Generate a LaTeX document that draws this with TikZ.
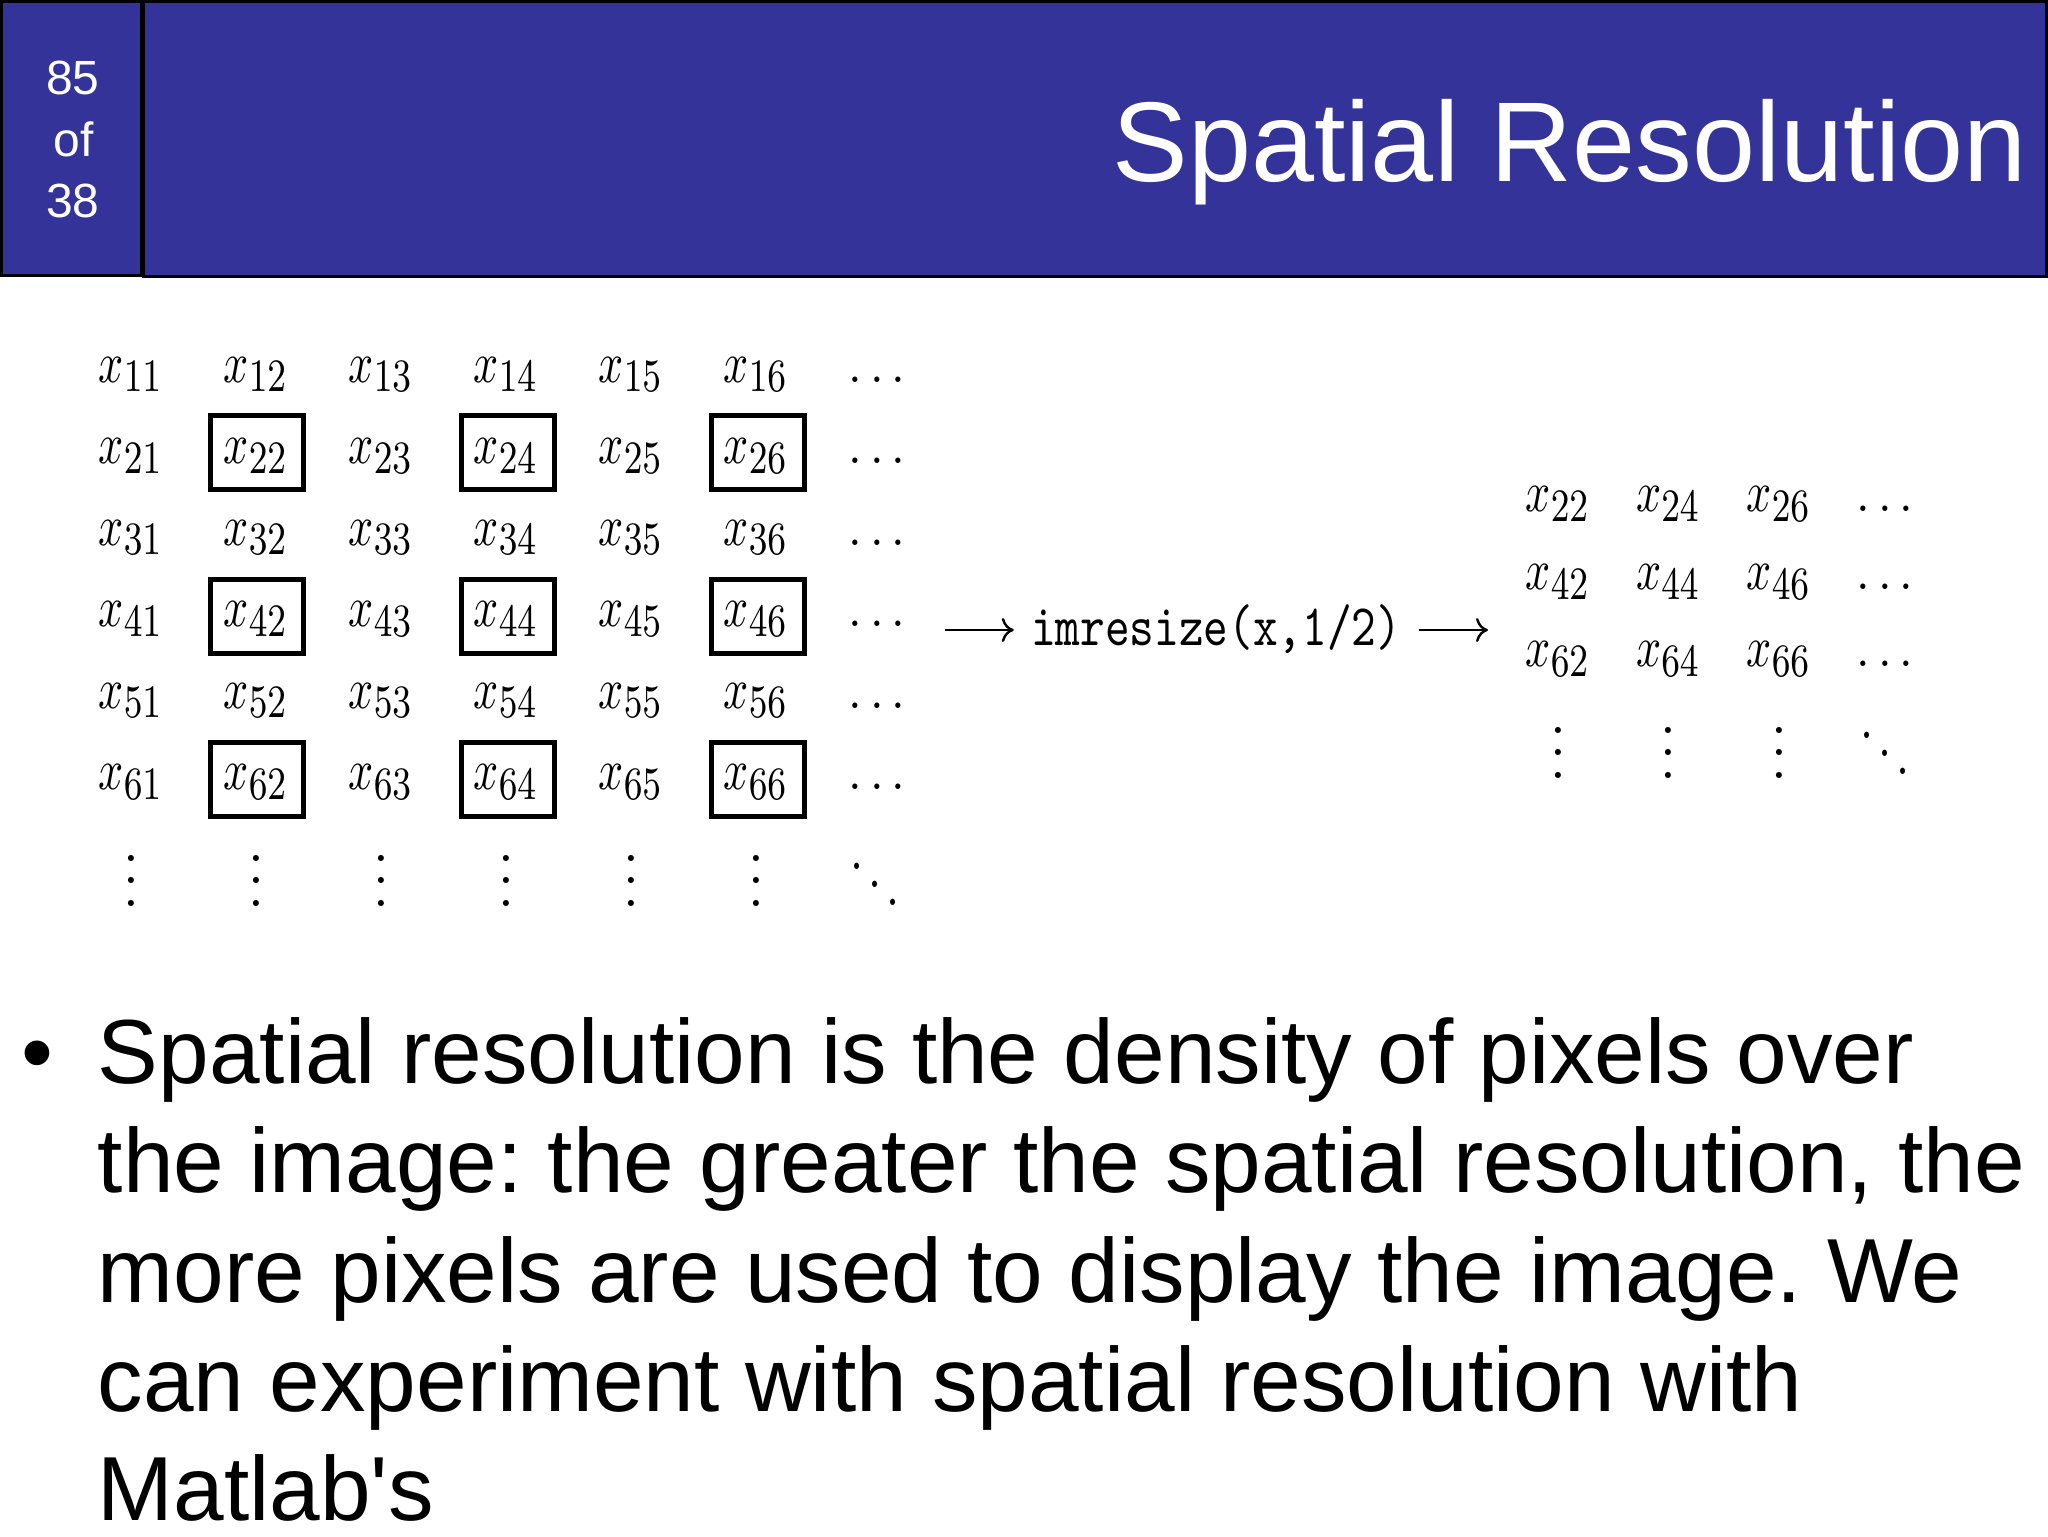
\documentclass[tikz,border=0pt]{standalone}
\usepackage[no-math]{fontspec}
\usepackage{graphicx}
\usetikzlibrary{arrows.meta}
\newfontfamily\arialfam{Liberation Sans}
\definecolor{hdrblue}{RGB}{51,51,153}
\DeclareMathSizes{10}{10}{8}{6}
\frenchspacing
\newcommand{\mx}[1]{\scalebox{2.2}[2.9]{$#1$}}
\newcommand{\hdots}{\scalebox{2.45}[2.6]{$\ldots$}}
\newcommand{\vdotsb}{\scalebox{2.84}{\vbox{\baselineskip4pt\lineskiplimit0pt\hbox{.}\hbox{.}\hbox{.}}}}
\newcommand{\ddotsb}{\scalebox{2.35}[3]{\hbox{\raise6pt\hbox{.}\kern1.1pt\raise3pt\hbox{.}\kern1.1pt\hbox{.}}}}
\tikzset{
  hdr/.style={fill=hdrblue, draw=black, line width=1.5pt},
  pagenum/.style={anchor=base, inner sep=0pt, text=white, font=\fontsize{24}{30}\arialfam},
  titletext/.style={anchor=base east, inner sep=0pt, text=white, font=\fontsize{56.7}{68}\arialfam},
  cell/.style={anchor=base, inner sep=0pt},
  vdotcell/.style={anchor=south, inner sep=0pt},
  boxsel/.style={draw=black, line width=2.5pt, minimum width=46.5pt, minimum height=37pt, inner sep=0pt},
  opname/.style={anchor=base west, inner xsep=8.5pt, inner ysep=0pt},
  arr/.style={line width=1.2pt, -{To[length=6pt,width=12pt]}},
  bodyline/.style={anchor=base west, inner sep=0pt, font=\fontsize{45.5}{54.7}\arialfam}
}
\begin{document}
\begin{tikzpicture}[x=0.5pt,y=-0.5pt]
\useasboundingbox (0,0) rectangle (2048,1536);
\fill[white] (0,0) rectangle (2048,1536);
% header
\draw[hdr] (1.5,1.5) rectangle (141,275);
\draw[hdr] (143.5,1.5) rectangle (2046.5,276);
\node[pagenum] (pg1) at (73,94.3) {85};
\node[pagenum] (pg2) at (74,156.7) {of};
\node[pagenum] (pg3) at (73,217.3) {38};
\node[titletext] (title) at (2027,181) {Spatial Resolution};
% left matrix
\foreach \r in {1,...,6}{
  \foreach \c in {1,...,6}{
    \node[cell] (c\r\c) at ({131+125*(\c-1)},{382+81.5*(\r-1)}) {\mx{x_{\r\c}}};
  }
  \node[cell] (ld\r) at (877,{382+81.5*(\r-1)}) {\hdots};
}
\foreach \r/\yy in {2/452.5,4/616,6/779.5}{
  \foreach \c/\xx in {2/257,4/507.5,6/757.5}{
    \node[boxsel] (b\r\c) at (\xx,\yy) {};
  }
}
\foreach \c in {1,...,6}{
  \node[vdotcell] (vd\c) at ({131+125*(\c-1)},907) {\vdotsb};
}
\node[cell] (dd) at (875,905) {\ddotsb};
% operation
\node[opname] (imr) at (1013.8,645) {\scalebox{2.35}[2.94]{\texttt{imresize(x,1/2)}}};
\coordinate (a1s) at (945,630);
\coordinate (a2e) at (1488,630);
\draw[arr] (a1s) -- (a1s -| imr.west);
\draw[arr] (imr.east |- a2e) -- (a2e);
% right matrix
\foreach \r [count=\i from 0] in {2,4,6}{
  \foreach \c [count=\j from 0] in {2,4,6}{
    \node[cell] (r\r\c) at ({1558+110.5*\j},{511.7+77.5*\i}) {\mx{x_{\r\c}}};
  }
  \node[cell] (rld\r) at (1885,{511.7+77.5*\i}) {\hdots};
}
\foreach \c [count=\j from 0] in {2,4,6}{
  \node[vdotcell] (rvd\c) at ({1558+110.5*\j},779) {\vdotsb};
}
\node[cell] (rdd) at (1885,774) {\ddotsb};
% body text
\node[bodyline] (bullet) at (21,1083.3) {•};
\node[bodyline] (l1) at (97.5,1083.3) {Spatial resolution is the density of pixels over};
\node[bodyline] (l2) at (97.5,1192.7) {the image: the greater the spatial resolution, the};
\node[bodyline] (l3) at (97.5,1302.1) {more pixels are used to display the image. We};
\node[bodyline] (l4) at (97.5,1411.5) {can experiment with spatial resolution with};
\node[bodyline] (l5) at (97.5,1520.9) {Matlab's};
\end{tikzpicture}
\end{document}
